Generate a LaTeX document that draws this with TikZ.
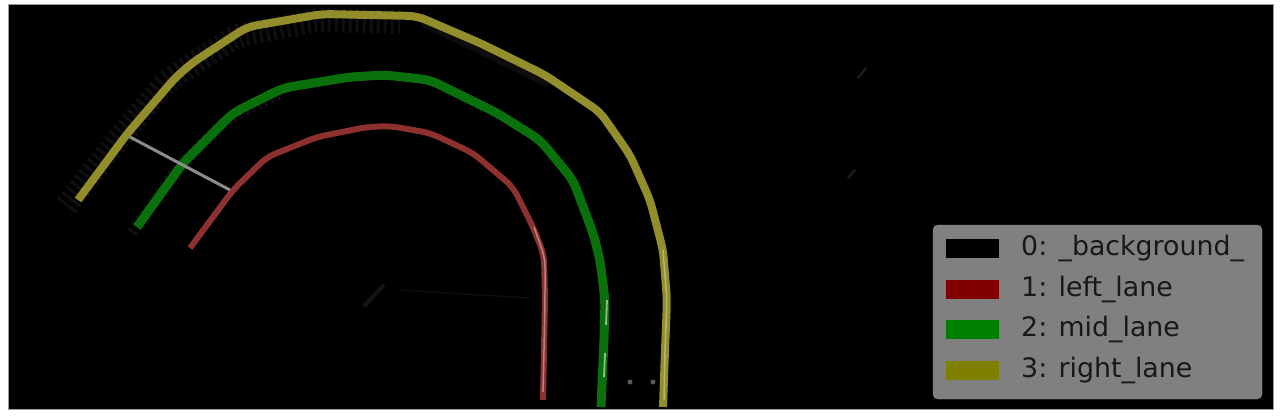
\documentclass[tikz,border=0pt]{standalone}
\usepackage{fontspec}
\setmainfont{DejaVu Sans}
\definecolor{laneY}{RGB}{146,142,44}
\definecolor{laneG}{RGB}{10,112,12}
\definecolor{laneR}{RGB}{140,48,48}
\definecolor{legfill}{RGB}{128,128,128}
\definecolor{legedge}{RGB}{150,150,150}
\definecolor{legtext}{RGB}{24,24,24}
\definecolor{patR}{RGB}{128,0,0}
\definecolor{patG}{RGB}{0,128,0}
\definecolor{patY}{RGB}{128,128,0}
\tikzset{
  lane/.style={line join=round, line cap=butt, rounded corners=9pt},
  haze/.style={white, opacity=0.06, line join=round, line cap=butt, dash pattern=on 3pt off 4pt},
  patch/.style={minimum width=53pt, minimum height=19pt, inner sep=0pt, draw=none},
  legtxt/.style={anchor=west, inner sep=0pt, text=legtext, font=\fontsize{26.8}{30}\selectfont},
}
\begin{document}
\begin{tikzpicture}[x=1pt,y=-1pt]
\useasboundingbox (0,0) rectangle (1280,417);
\fill[white] (0,0) rectangle (1280,417);
\draw[fill=black, draw=black!40, line width=1pt] (8,5) rectangle (1273,409);

% haze around outer lanes
\draw[haze, line width=24pt, rounded corners=9pt] (66,206) -- (118,140) -- (166,82) -- (236,36) -- (316,20) -- (400,22);
\draw[haze, line width=12pt, rounded corners=9pt] (132,233) -- (176,170) -- (226,120) -- (278,94);
\draw[white, opacity=0.05, line width=8pt, line cap=round, rounded corners=9pt] (425,24) -- (480,50) -- (545,82);

% right lane (yellow)
\draw[lane, laneY, line width=8pt] (78,200) -- (127,134) -- (175,78) -- (192,63) -- (247,27) -- (322,14) -- (417,16) -- (480,43) -- (545,75) -- (600,112) -- (630,155) -- (650,200) -- (663,250) -- (667,300) -- (665,350) -- (663,407);
\draw[lane, white, opacity=0.35, line width=1.5pt] (663,250) -- (667,300) -- (665,350) -- (664,400);

% mid lane (green)
\draw[lane, laneG, line width=9pt] (137,227) -- (183,163) -- (233,113) -- (283,88) -- (350,77) -- (385,75) -- (430,80) -- (497,113) -- (540,140) -- (573,180) -- (593,233) -- (600,260) -- (605,300) -- (604,340) -- (601,407);
\draw[white, opacity=0.55, line width=1.8pt] (607,300) -- (606,325);
\draw[white, opacity=0.55, line width=1.8pt] (605,353) -- (604,377);

% left lane (red)
\draw[lane, laneR, line width=6pt] (190,248) -- (233,190) -- (267,157) -- (317,137) -- (367,127) -- (390,126) -- (430,133) -- (473,153) -- (513,187) -- (533,227) -- (544,255) -- (545,300) -- (544,350) -- (543,400);
\draw[lane, white, opacity=0.4, line width=1.5pt] (534,227) -- (545,258) -- (545,300) -- (544,350) -- (543,392);

% gray connector
\coordinate (gA) at (130,137);
\coordinate (gB) at (230,190);
\draw[black!45, line width=3pt] (gA) -- (gB);

% faint specks
\fill[white, opacity=0.35] (630,382) circle (2.5pt);
\fill[white, opacity=0.35] (653,382) circle (2.5pt);
\draw[white, opacity=0.12, line width=2pt, line cap=round] (858,78) -- (866,68);
\draw[white, opacity=0.12, line width=2pt, line cap=round] (848,178) -- (855,170);
\draw[white, opacity=0.08, line width=4pt, line cap=round] (365,305) -- (383,286);
\draw[white, opacity=0.05, line width=1.5pt] (400,290) -- (530,298);

% legend
\node[draw=legedge, fill=legfill, rounded corners=5pt, minimum width=329pt, minimum height=174pt, inner sep=0pt] (legend) at (1097.5,312) {};
\node[patch, fill=black] (p0) at (972.5,248.5) {};
\node[patch, fill=patR] (p1) at (972.5,289) {};
\node[patch, fill=patG] (p2) at (972.5,329.5) {};
\node[patch, fill=patY] (p3) at (972.5,370.5) {};
\node[legtxt] (t0) at (1021,248.5) {0: \_background\_};
\node[legtxt] (t1) at (1021,289) {1: left\_lane};
\node[legtxt] (t2) at (1021,329.5) {2: mid\_lane};
\node[legtxt] (t3) at (1021,370.5) {3: right\_lane};
\end{tikzpicture}
\end{document}
